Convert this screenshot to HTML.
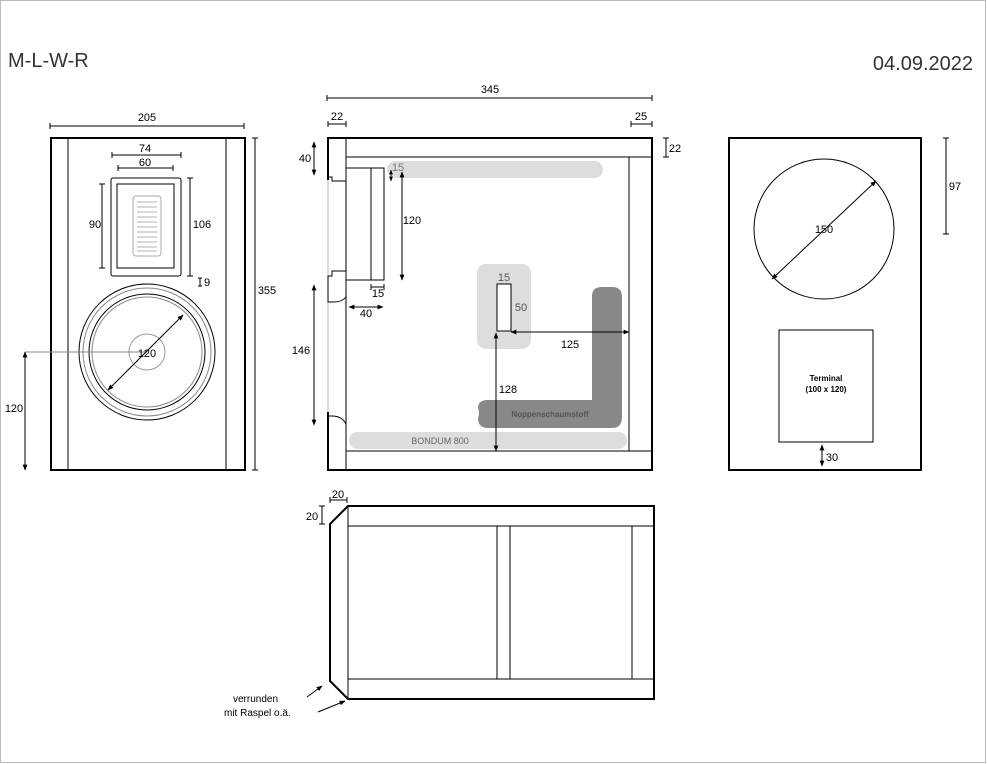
<!DOCTYPE html>
<html><head><meta charset="utf-8"><style>
html,body{margin:0;padding:0;background:#fff}
svg{display:block;font-family:"Liberation Sans",sans-serif}
</style></head><body>
<svg width="987" height="764" viewBox="0 0 987 764" xmlns="http://www.w3.org/2000/svg">
<defs>
<marker id="a" viewBox="0 0 10 10" refX="9" refY="5" markerWidth="6" markerHeight="6" orient="auto-start-reverse"><path d="M0,1 L10,5 L0,9 z" fill="#000"/></marker>
</defs>
<rect x="0.5" y="0.5" width="985" height="762" fill="#fff" stroke="#bbb"/>
<text x="8" y="67" font-size="20" fill="#333">M-L-W-R</text>
<text x="973" y="70" font-size="20" fill="#333" text-anchor="end">04.09.2022</text>

<g font-size="11" fill="#000" stroke="none">
<!-- FRONT -->
<g stroke="#000" fill="none">
<rect x="51" y="138" width="194" height="332" stroke-width="2"/>
<line x1="68" y1="138" x2="68" y2="470"/><line x1="226" y1="138" x2="226" y2="470"/>
<line x1="50" y1="126" x2="244" y2="126"/><line x1="50" y1="123" x2="50" y2="129"/><line x1="244" y1="123" x2="244" y2="129"/>
<line x1="255" y1="138" x2="255" y2="470"/><line x1="252" y1="138" x2="258" y2="138"/><line x1="252" y1="470" x2="258" y2="470"/>
<rect x="111" y="178" width="70" height="98" rx="2"/>
<rect x="117" y="184" width="57" height="84"/>
<rect x="133" y="196" width="28" height="60" rx="3" stroke="#aaa"/>
<g stroke="#999" stroke-width="0.7">
<line x1="137" y1="202" x2="157" y2="202"/><line x1="137" y1="207" x2="157" y2="207"/><line x1="137" y1="212" x2="157" y2="212"/><line x1="137" y1="217" x2="157" y2="217"/><line x1="137" y1="222" x2="157" y2="222"/><line x1="137" y1="227" x2="157" y2="227"/><line x1="137" y1="232" x2="157" y2="232"/><line x1="137" y1="237" x2="157" y2="237"/><line x1="137" y1="242" x2="157" y2="242"/><line x1="137" y1="247" x2="157" y2="247"/><line x1="137" y1="251" x2="157" y2="251"/>
</g>
<line x1="112" y1="155" x2="181" y2="155"/><line x1="112" y1="152" x2="112" y2="158"/><line x1="181" y1="152" x2="181" y2="158"/>
<line x1="118" y1="168" x2="173" y2="168"/><line x1="118" y1="165" x2="118" y2="171"/><line x1="173" y1="165" x2="173" y2="171"/>
<line x1="102" y1="184" x2="102" y2="268"/><line x1="99" y1="184" x2="105" y2="184"/><line x1="99" y1="268" x2="105" y2="268"/>
<line x1="190" y1="178" x2="190" y2="276"/><line x1="187" y1="178" x2="193" y2="178"/><line x1="187" y1="276" x2="193" y2="276"/>
<line x1="200" y1="278" x2="200" y2="286"/><line x1="198" y1="278" x2="202" y2="278"/><line x1="198" y1="286" x2="202" y2="286"/>
<circle cx="147" cy="352" r="68"/>
<circle cx="147" cy="352" r="64" stroke="#888"/>
<circle cx="147" cy="352" r="58"/>
<circle cx="147" cy="352" r="55" stroke="#888"/>
<circle cx="147" cy="352" r="18" stroke="#999"/>
<line x1="25" y1="352" x2="147" y2="352" stroke="#888"/>
<line x1="108" y1="390" x2="183" y2="315" marker-start="url(#a)" marker-end="url(#a)"/>
<line x1="25" y1="352" x2="25" y2="470" marker-start="url(#a)" marker-end="url(#a)"/>
</g>
<text x="147" y="121" text-anchor="middle">205</text>
<text x="145" y="152" text-anchor="middle">74</text>
<text x="145" y="166" text-anchor="middle">60</text>
<text x="95" y="228" text-anchor="middle">90</text>
<text x="202" y="228" text-anchor="middle">106</text>
<text x="207" y="286" text-anchor="middle">9</text>
<text x="267" y="294" text-anchor="middle">355</text>
<text x="147" y="357" text-anchor="middle">120</text>
<text x="14" y="412" text-anchor="middle">120</text>

<!-- SIDE -->
<rect x="387" y="161" width="216" height="17" rx="8.5" fill="#ddd"/>
<rect x="349" y="432" width="278" height="17" rx="8.5" fill="#ddd"/>
<rect x="477" y="264" width="54" height="85" rx="9" fill="#ddd"/>
<path d="M592,296 q0,-9 10,-9 h10 q10,0 10,10 v120 q0,11 -10,11 h-124 q-10,0 -10,-10 q2,-5 0,-10 q0,-8 10,-8 h104 z" fill="#888"/>
<g stroke="#000" fill="none">
<rect x="328" y="138" width="324" height="332" stroke-width="2" fill="none"/>
<line x1="346" y1="157" x2="652" y2="157"/>
<line x1="346" y1="451" x2="652" y2="451"/>
<line x1="629" y1="157" x2="629" y2="451"/>
<line x1="346" y1="138" x2="346" y2="470"/>
<line x1="328" y1="180" x2="328" y2="412" stroke="#fff" stroke-width="3"/>
<line x1="328" y1="180" x2="328" y2="412" stroke="#bbb"/>
<path d="M328,177 h4 v4 h14 M346,168 h38 v112 h-38 M371,168 v112"/>
<path d="M328,276 h4 v-5 h14 v26 q-4,5 -12,5 h-6 z" fill="#fff"/>
<path d="M328,416 h4 q10,0 14,8"/>
<line x1="666" y1="138" x2="666" y2="157"/><line x1="663" y1="138" x2="669" y2="138"/><line x1="663" y1="157" x2="669" y2="157"/>
<line x1="327" y1="98" x2="652" y2="98"/><line x1="327" y1="95" x2="327" y2="101"/><line x1="652" y1="95" x2="652" y2="101"/>
<line x1="328" y1="124" x2="346" y2="124"/><line x1="328" y1="121" x2="328" y2="127"/><line x1="346" y1="121" x2="346" y2="127"/>
<line x1="631" y1="124" x2="652" y2="124"/><line x1="631" y1="121" x2="631" y2="127"/><line x1="652" y1="121" x2="652" y2="127"/>
<line x1="314" y1="142" x2="314" y2="175" marker-start="url(#a)" marker-end="url(#a)"/>
<line x1="314" y1="285" x2="314" y2="425" marker-start="url(#a)" marker-end="url(#a)"/>
<line x1="371" y1="287" x2="384" y2="287"/><line x1="371" y1="284" x2="371" y2="290"/><line x1="384" y1="284" x2="384" y2="290"/>
<line x1="349" y1="307" x2="383" y2="307" marker-start="url(#a)" marker-end="url(#a)"/>
<line x1="402" y1="172" x2="402" y2="280" marker-start="url(#a)" marker-end="url(#a)"/>
<line x1="391" y1="170" x2="391" y2="181" marker-start="url(#a)" marker-end="url(#a)" stroke-width="0.8"/>
<rect x="497" y="284" width="14" height="47" fill="#fff"/>
<line x1="511" y1="332" x2="629" y2="332" marker-start="url(#a)" marker-end="url(#a)"/>
<line x1="496" y1="333" x2="496" y2="451" marker-start="url(#a)" marker-end="url(#a)"/>
</g>
<text x="490" y="93" text-anchor="middle">345</text>
<text x="337" y="120" text-anchor="middle">22</text>
<text x="641" y="120" text-anchor="middle">25</text>
<text x="675" y="152" text-anchor="middle">22</text>
<text x="305" y="162" text-anchor="middle">40</text>
<text x="301" y="354" text-anchor="middle">146</text>
<text x="378" y="297" text-anchor="middle">15</text>
<text x="366" y="317" text-anchor="middle">40</text>
<text x="412" y="224" text-anchor="middle">120</text>
<text x="398" y="171" text-anchor="middle" fill="#777">15</text>
<text x="504" y="281" text-anchor="middle" fill="#555">15</text>
<text x="521" y="311" text-anchor="middle" fill="#555">50</text>
<text x="570" y="348" text-anchor="middle">125</text>
<text x="508" y="393" text-anchor="middle">128</text>
<text x="550" y="417" text-anchor="middle" font-size="8" font-weight="bold" fill="#555">Noppenschaumstoff</text>
<text x="440" y="444" text-anchor="middle" font-size="9" fill="#666">BONDUM 800</text>

<!-- BACK -->
<g stroke="#000" fill="none">
<rect x="729" y="138" width="192" height="332" stroke-width="2"/>
<circle cx="824" cy="229" r="70"/>
<line x1="772" y1="279" x2="876" y2="181" marker-start="url(#a)" marker-end="url(#a)"/>
<rect x="779" y="330" width="94" height="112"/>
<line x1="822" y1="445" x2="822" y2="466" marker-start="url(#a)" marker-end="url(#a)"/>
<line x1="946" y1="138" x2="946" y2="234"/><line x1="943" y1="138" x2="949" y2="138"/><line x1="943" y1="234" x2="949" y2="234"/>
</g>
<text x="824" y="233" text-anchor="middle">150</text>
<text x="826" y="381" text-anchor="middle" font-size="8" font-weight="bold">Terminal</text>
<text x="826" y="392" text-anchor="middle" font-size="8" font-weight="bold">(100 x 120)</text>
<text x="832" y="461" text-anchor="middle">30</text>
<text x="955" y="190" text-anchor="middle">97</text>

<!-- BOTTOM -->
<g stroke="#000" fill="none">
<path d="M348,506 H654 V699 H348 L330,681 V524 Z" stroke-width="2"/>
<line x1="348" y1="506" x2="348" y2="699"/>
<line x1="348" y1="526" x2="654" y2="526"/>
<line x1="348" y1="679" x2="654" y2="679"/>
<line x1="497" y1="526" x2="497" y2="679"/>
<line x1="510" y1="526" x2="510" y2="679"/>
<line x1="632" y1="526" x2="632" y2="679"/>
<line x1="330" y1="500" x2="347" y2="500"/><line x1="330" y1="497" x2="330" y2="503"/><line x1="347" y1="497" x2="347" y2="503"/>
<line x1="322" y1="506" x2="322" y2="524"/><line x1="319" y1="506" x2="325" y2="506"/><line x1="319" y1="524" x2="325" y2="524"/>
<line x1="307" y1="697" x2="322" y2="686" marker-end="url(#a)"/>
<line x1="318" y1="712" x2="345" y2="701" marker-end="url(#a)"/>
</g>
<text x="338" y="498" text-anchor="middle">20</text>
<text x="312" y="520" text-anchor="middle">20</text>
<text x="233" y="702" font-size="10">verrunden</text>
<text x="224" y="716" font-size="10">mit Raspel o.ä.</text>
</g>
</svg>
</body></html>
